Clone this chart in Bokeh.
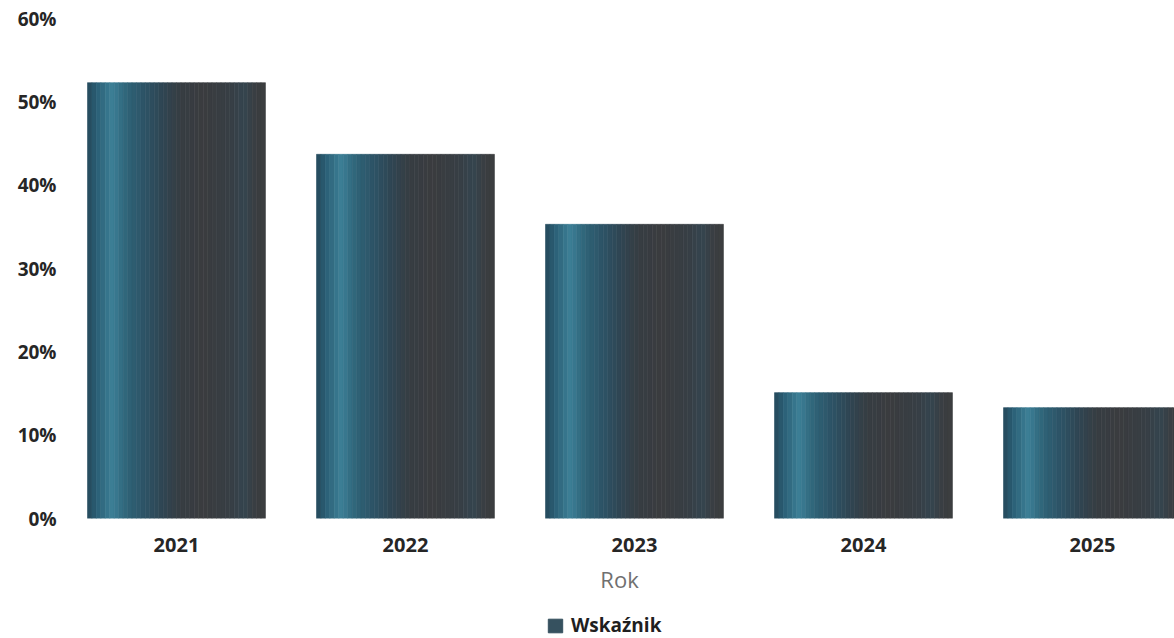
import numpy as np
from bokeh.plotting import figure
from bokeh.layouts import column
from bokeh.models import (ColumnDataSource, FixedTicker, PrintfTickFormatter,
                          Range1d, Legend, LegendItem)
from bokeh.embed import file_html
from bokeh.resources import INLINE

# ---- data ----
years = ["2021", "2022", "2023", "2024", "2025"]
values = [52.3, 43.7, 35.3, 15.1, 13.3]
y_ticks = [0, 10, 20, 30, 40, 50, 60]
series_name = "Wskaźnik"
x_title = "Rok"

# ---- style: horizontal gradient across each bar ----
stops = [
    (0.00, "#24485a"), (0.06, "#2c6178"), (0.14, "#3c7f96"), (0.22, "#2f6478"),
    (0.32, "#2d5366"), (0.42, "#2f4553"), (0.52, "#363d43"), (0.65, "#3a3c3f"),
    (0.80, "#373e44"), (0.88, "#34454f"), (0.95, "#3a3d40"), (1.00, "#3c3e40"),
]

def hex2rgb(h):
    h = h.lstrip("#")
    return np.array([int(h[i:i + 2], 16) for i in (0, 2, 4)], dtype=float)

def grad_color(t):
    pos = [s[0] for s in stops]
    cols = np.array([hex2rgb(s[1]) for s in stops])
    rgb = [np.interp(t, pos, cols[:, k]) for k in range(3)]
    return "#%02x%02x%02x" % tuple(int(round(c)) for c in rgb)

BAR_W = 0.777
N = 40
xs, tops, cols = [], [], []
for i, v in enumerate(values):
    for j in range(N):
        t = (j + 0.5) / N
        xs.append(i - BAR_W / 2 + t * BAR_W)
        tops.append(v)
        cols.append(grad_color(t))
src = ColumnDataSource(dict(x=xs, top=tops, color=cols))

W = 1174
p = figure(width=W, height=602, output_backend="svg", toolbar_location=None,
           x_range=Range1d(-0.489, -0.489 + 1110 / 229), y_range=Range1d(0, 60),
           min_border_left=64, min_border_top=18, min_border_right=0,
           min_border_bottom=84)
p.outline_line_color = None
p.xgrid.visible = False
p.ygrid.visible = False
p.background_fill_color = "white"
p.border_fill_color = "white"

p.vbar(x="x", top="top", bottom=0, width=BAR_W / N, source=src,
       fill_color="color", line_color="color", line_width=0.6)

# y axis
p.yaxis.ticker = FixedTicker(ticks=y_ticks)
p.yaxis.formatter = PrintfTickFormatter(format="%d%%")
p.yaxis.axis_line_color = None
p.yaxis.major_tick_line_color = None
p.yaxis.minor_tick_line_color = None
p.yaxis.major_label_standoff = 2
p.yaxis.major_label_text_font = "Open Sans"
p.yaxis.major_label_text_font_style = "bold"
p.yaxis.major_label_text_font_size = "19px"
p.yaxis.major_label_text_color = "#262626"

# x axis
p.xaxis.ticker = FixedTicker(ticks=list(range(len(years))))
p.xaxis.major_label_overrides = {i: y for i, y in enumerate(years)}
p.xaxis.axis_line_color = None
p.xaxis.major_tick_line_color = None
p.xaxis.minor_tick_line_color = None
p.xaxis.major_label_standoff = 13
p.xaxis.major_label_text_font = "Open Sans"
p.xaxis.major_label_text_font_style = "bold"
p.xaxis.major_label_text_font_size = "20px"
p.xaxis.major_label_text_color = "#262626"
p.xaxis.axis_label = x_title
p.xaxis.axis_label_standoff = 9
p.xaxis.axis_label_text_font = "Open Sans"
p.xaxis.axis_label_text_font_style = "normal"
p.xaxis.axis_label_text_font_size = "22px"
p.xaxis.axis_label_text_color = "#707070"

# ---- legend strip below ----
lf = figure(width=W, height=36, output_backend="svg", toolbar_location=None,
            x_range=Range1d(0, 1), y_range=Range1d(0, 1),
            min_border=0)
lf.axis.visible = False
lf.grid.visible = False
lf.outline_line_color = None
dummy = lf.vbar(x=[-10], top=[0], bottom=[0], width=0.5,
                fill_color="#36515f", line_color="#36515f")
legend = Legend(items=[LegendItem(label=series_name, renderers=[dummy])],
                orientation="horizontal", location=(482, 0),
                margin=0, padding=2, glyph_width=18, glyph_height=17,
                label_text_font="Open Sans", label_text_font_style="bold",
                label_text_font_size="19px", label_text_color="#1f1f1f",
                label_standoff=7, border_line_color=None,
                background_fill_alpha=0)
lf.add_layout(legend, "center")

layout = column(p, lf, spacing=0)
open("out.html", "w").write(file_html(layout, INLINE))
